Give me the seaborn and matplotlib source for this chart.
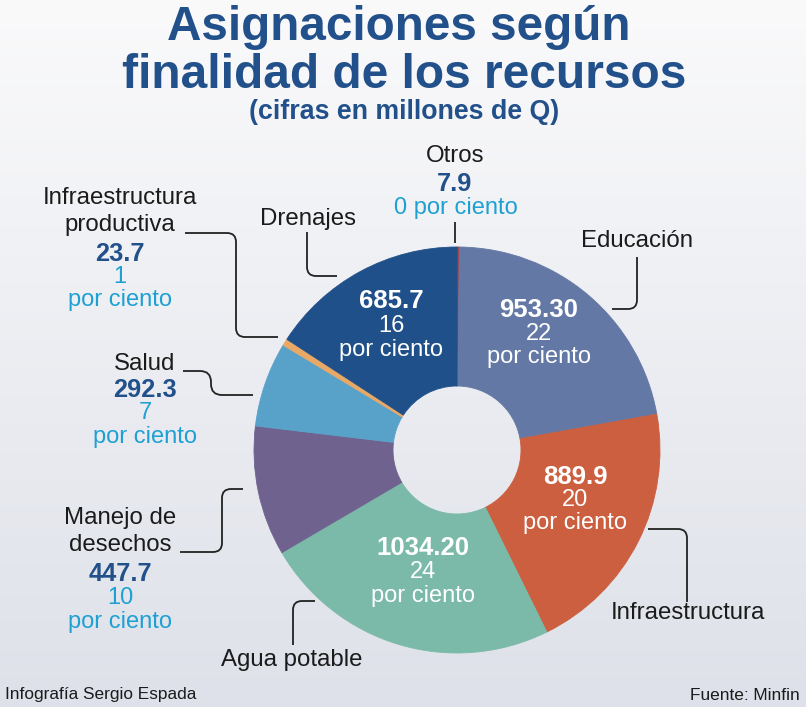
import numpy as np
import matplotlib
matplotlib.use("Agg")
import matplotlib.pyplot as plt
from matplotlib.path import Path
from matplotlib.patches import PathPatch
import seaborn as sns

# ---------------- data ----------------
categories = ["Otros", "Educación", "Infraestructura", "Agua potable",
              "Manejo de desechos", "Salud", "Infraestructura productiva", "Drenajes"]
values = [7.9, 953.30, 889.9, 1034.20, 447.7, 292.3, 23.7, 685.7]
value_labels = ["7.9", "953.30", "889.9", "1034.20", "447.7", "292.3", "23.7", "685.7"]
percents = [0, 22, 20, 24, 10, 7, 1, 16]
slice_colors = ["#a83a3c", "#6478a5", "#cb5f3f", "#7bbaa9",
                "#6f628e", "#58a1c9", "#e8a866", "#20508a"]

title_lines = ["Asignaciones según", "finalidad de los recursos"]
subtitle = "(cifras en millones de Q)"
credit = "Infografía Sergio Espada"
source = "Fuente: Minfin"

# ---------------- style ----------------
sns.set_theme(style="white")
plt.rcParams['font.family'] = ['Liberation Sans', 'DejaVu Sans']
palette = sns.color_palette(slice_colors)

W, H = 806, 707
fig = plt.figure(figsize=(W / 100, H / 100), dpi=100)
ax = fig.add_axes([0, 0, 1, 1])

# background gradient
top = np.array([250, 250, 251]) / 255
bot = np.array([222, 225, 233]) / 255
t = np.linspace(0, 1, H)[:, None, None]
grad = top * (1 - t) + bot * t
ax.imshow(grad, extent=(0, W, H, 0), aspect='auto', zorder=0)

# donut (pixel coordinates, y pointing down -> start at -90 counterclock = clockwise from top)
cx, cy, R, ring = 457, 450, 203, 139
wedges, _ = ax.pie(values, colors=palette, startangle=-90, counterclock=True,
                   radius=R, center=(cx, cy),
                   wedgeprops=dict(width=ring, linewidth=0))
for w in wedges:
    w.set_zorder(2)
    w.set_edgecolor(w.get_facecolor())
    w.set_linewidth(0.6)

ax.set_xlim(0, W)
ax.set_ylim(H, 0)
ax.set_aspect('auto')
ax.axis('off')

BLUE = "#22508a"
CYAN = "#1fa0d3"
INK = "#1b1b1b"

# titles
ax.text(399, 28, title_lines[0], ha='center', va='center', fontsize=34.3,
        fontweight='bold', color=BLUE, zorder=5)
ax.text(404, 75, title_lines[1], ha='center', va='center', fontsize=34.5,
        fontweight='bold', color=BLUE, zorder=5)
ax.text(404, 112, subtitle, ha='center', va='center', fontsize=19.3,
        fontweight='bold', color=BLUE, zorder=5)

def label(x, y, s, **kw):
    ax.text(x, y, s, ha='center', va='center', zorder=5, **kw)

lab = dict(fontsize=17.3, color=INK)
val = dict(fontsize=18.3, fontweight='bold', color=BLUE)
pct = dict(fontsize=17, color=CYAN)
wval = dict(fontsize=18.5, fontweight='bold', color='white')
wpct = dict(fontsize=17, color='white')

# Otros
label(455, 156, categories[0], **lab)
label(455, 184, value_labels[0], **val)
label(456, 208, f"{percents[0]} por ciento", **pct)
# Educación
label(637, 241, categories[1], **lab)
label(539, 310, value_labels[1], **wval)
label(539, 334, str(percents[1]), **wpct)
label(539, 357, "por ciento", **wpct)
# Infraestructura
label(688, 613, categories[2], **lab)
label(575, 477, value_labels[2], **wval)
label(575, 500, str(percents[2]), **wpct)
label(575, 523, "por ciento", **wpct)
# Agua potable
label(292, 660, categories[3], **lab)
label(423, 548, value_labels[3], **wval)
label(423, 572, str(percents[3]), **wpct)
label(423, 596, "por ciento", **wpct)
# Manejo de desechos
label(120, 518, "Manejo de", **lab)
label(120, 545, "desechos", **lab)
label(120, 574, value_labels[4], **val)
label(120, 598, str(percents[4]), **pct)
label(120, 622, "por ciento", **pct)
# Salud
label(145, 364, categories[5], **lab)
label(145, 390, value_labels[5], **val)
label(145, 413, str(percents[5]), **pct)
label(145, 437, "por ciento", **pct)
# Infraestructura productiva
label(120, 198, "Infraestructura", **lab)
label(120, 225, "productiva", **lab)
label(120, 254, value_labels[6], **val)
label(120, 277, str(percents[6]), **pct)
label(120, 300, "por ciento", **pct)
# Drenajes
label(308, 219, categories[7], **lab)
label(391, 301, value_labels[7], **wval)
label(391, 326, str(percents[7]), **wpct)
label(391, 350, "por ciento", **wpct)

# footer
ax.text(5, 695, credit, ha='left', va='center', fontsize=12.4, color=INK, zorder=5)
ax.text(800, 695, source, ha='right', va='center', fontsize=12.4, color=INK, zorder=5)

# connectors with rounded corners
def connector(points, r=9):
    verts = [points[0]]
    codes = [Path.MOVETO]
    for i in range(1, len(points) - 1):
        p0, p1, p2 = (np.array(p, float) for p in points[i - 1:i + 2])
        d1 = (p1 - p0) / np.linalg.norm(p1 - p0)
        d2 = (p2 - p1) / np.linalg.norm(p2 - p1)
        a = p1 - d1 * r
        b = p1 + d2 * r
        verts += [tuple(a), tuple(p1), tuple(b)]
        codes += [Path.LINETO, Path.CURVE3, Path.CURVE3]
    verts.append(points[-1])
    codes.append(Path.LINETO)
    ax.add_patch(PathPatch(Path(verts, codes), fill=False, edgecolor="#222222",
                           linewidth=1.3, zorder=4, capstyle='butt'))

connector([(455, 222), (455, 243)])
connector([(612, 309), (637, 309), (637, 257)])
connector([(648, 529), (687, 529), (687, 602)])
connector([(315, 601), (293, 601), (293, 645)])
connector([(180, 552), (222, 552), (222, 489), (243, 489)])
connector([(183, 371), (211, 371), (211, 395), (253, 395)], r=11)
connector([(185, 233), (236, 233), (236, 337), (278, 337)])
connector([(307, 232), (307, 276), (337, 276)])

fig.savefig("out.png", dpi=100)
